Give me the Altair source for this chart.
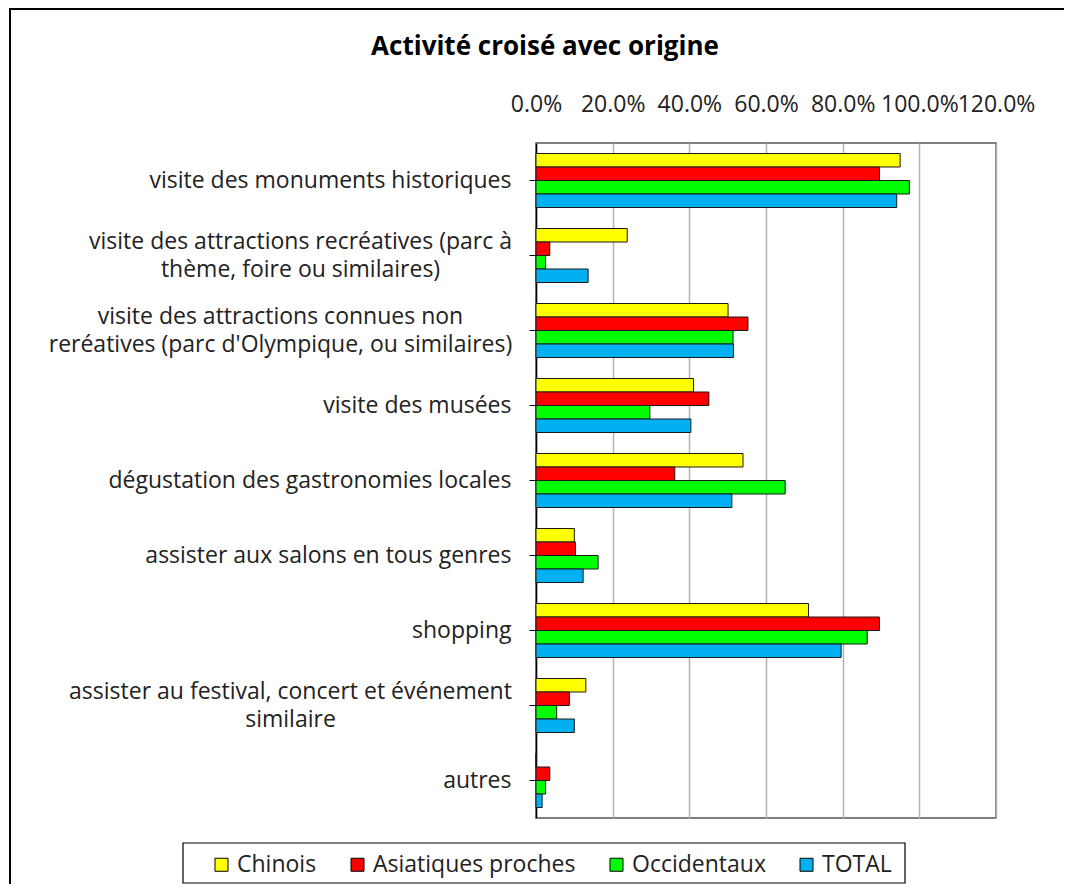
import altair as alt
import pandas as pd

categories = [
    "visite des monuments historiques",
    "visite des attractions recréatives (parc à\nthème, foire ou similaires)",
    "visite des attractions connues non\nreréatives (parc d'Olympique, ou similaires)",
    "visite des musées",
    "dégustation des gastronomies locales",
    "assister aux salons en tous genres",
    "shopping",
    "assister au festival, concert et événement\nsimilaire",
    "autres",
]
series = ["Chinois", "Asiatiques proches", "Occidentaux", "TOTAL"]
colors = ["#FFFF00", "#FF0000", "#00FF00", "#00B0F0"]

chinois = [0.950, 0.238, 0.501, 0.411, 0.540, 0.100, 0.711, 0.130, 0.000]
asiatiques = [0.896, 0.036, 0.553, 0.451, 0.362, 0.103, 0.896, 0.087, 0.036]
occidentaux = [0.974, 0.025, 0.514, 0.297, 0.650, 0.162, 0.864, 0.054, 0.025]
total = [0.941, 0.136, 0.515, 0.404, 0.511, 0.123, 0.796, 0.100, 0.016]

x_ticks = [0.0, 0.2, 0.4, 0.6, 0.8, 1.0, 1.2]
title_text = "Activité croisé avec origine"

rows = []
for name, vals in zip(series, [chinois, asiatiques, occidentaux, total]):
    for c, v in zip(categories, vals):
        rows.append({"cat": c, "serie": name, "val": v})
df = pd.DataFrame(rows)

FONT = "Open Sans"
FS = 23

multi = [
    ("indexof(datum.value, 'recréatives') >= 0", 229),
    ("indexof(datum.value, 'Olympique') >= 0", 249),
    ("indexof(datum.value, 'festival') >= 0", 239),
]
any_multi = " || ".join("(" + t + ")" for t, _ in multi)

label_align = {"condition": {"test": any_multi, "value": "center"}, "value": "right"}
label_pad = {"condition": [{"test": t, "value": p} for t, p in multi], "value": 18}
label_off = {"condition": {"test": any_multi, "value": -14}, "value": 0}

bars = alt.Chart(df).mark_bar(stroke="#1a1a1a", strokeWidth=1).encode(
    x=alt.X(
        "val:Q",
        scale=alt.Scale(domain=[0, 1.2], nice=False, zero=True),
        axis=alt.Axis(
            orient="top", format=".1%", values=x_ticks, title=None,
            ticks=False, domain=False, grid=True, gridColor="#b3b3b3", gridWidth=1.5,
            labelFont=FONT, labelFontSize=FS, labelColor="#222",
            labelPadding=27, labelOverlap=False, labelFlush=False, labelBound=False,
        ),
    ),
    y=alt.Y(
        "cat:N", sort=categories,
        scale=alt.Scale(paddingInner=0.28, paddingOuter=0.14),
        axis=alt.Axis(
            title=None, labelExpr="split(datum.label, '\\n')",
            labelFont=FONT, labelFontSize=FS, labelColor="#222", labelLineHeight=28,
            labelAlign=label_align, labelPadding=label_pad, labelOffset=label_off,
            labelLimit=700,
            tickSize=7, tickColor="#000", domainColor="#000", domainWidth=1.5,
            grid=False,
        ),
    ),
    yOffset=alt.YOffset("serie:N", sort=series, scale=alt.Scale(paddingInner=0, paddingOuter=0)),
    color=alt.Color(
        "serie:N", sort=series,
        scale=alt.Scale(domain=series, range=colors),
        legend=alt.Legend(
            title=None, orient="none", legendX=-326, legendY=710, direction="horizontal",
            symbolType="square", symbolSize=169, symbolStrokeColor="#000", symbolStrokeWidth=1,
            labelFont=FONT, labelFontSize=FS, labelColor="#222", columnPadding=29,
            labelOffset=4, labelLimit=400, padding=0,
        ),
    ),
)

deco = pd.DataFrame({"k": [0]})

border = alt.Chart(deco).mark_rect(fill=None, stroke="#000", strokeWidth=2).encode(
    x=alt.value(-526), x2=alt.value(700), y=alt.value(-134), y2=alt.value(900)
)

legend_box = alt.Chart(deco).mark_rect(fill=None, stroke="#000", strokeWidth=1.2).encode(
    x=alt.value(183 - 536), x2=alt.value(905 - 536), y=alt.value(700), y2=alt.value(740)
)

title = alt.Chart(deco).mark_text(
    text=title_text, font=FONT, fontSize=26, fontWeight="bold", color="#000",
    align="center", baseline="middle",
).encode(x=alt.value(545 - 536), y=alt.value(-96))

chart = alt.layer(bars, border, legend_box, title).properties(
    width=460, height=675,
    padding={"left": 528, "top": 135, "right": 68, "bottom": 66},
    autosize=alt.AutoSizeParams(type="none"),
).configure_view(stroke="#555", strokeWidth=1.5)

chart.save("out.html", embed_options={"renderer": "svg", "actions": False})
